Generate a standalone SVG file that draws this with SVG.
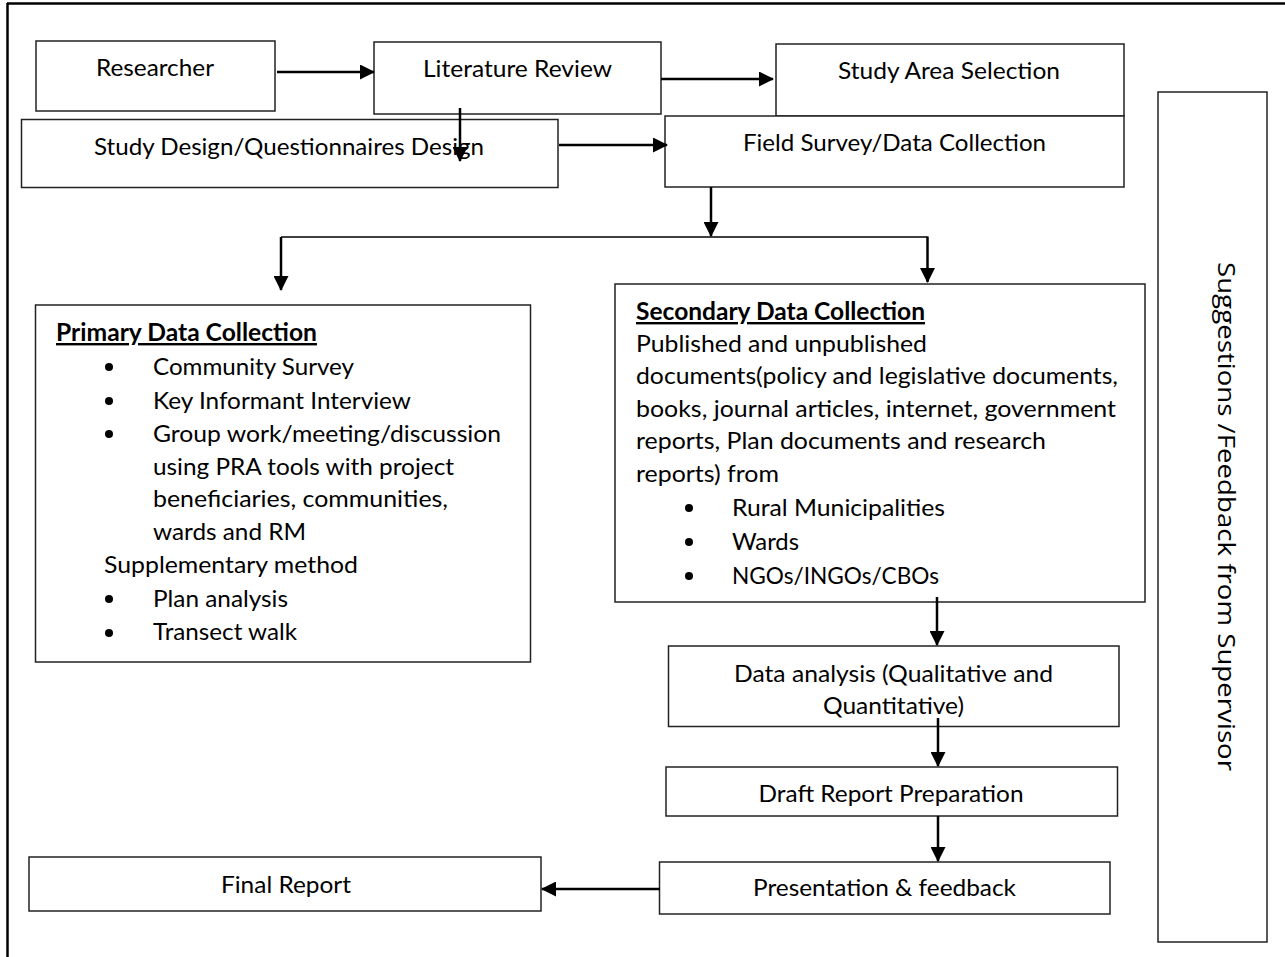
<svg xmlns="http://www.w3.org/2000/svg" width="1285" height="957" viewBox="0 0 1285 957">
<style>
.box{fill:#fff;stroke:#222;stroke-width:1.5}
.frame{stroke:#000;stroke-width:2.5;fill:none}
.t{font-family:Lato,"Liberation Sans",sans-serif;font-size:23px;fill:#000}
.c{text-anchor:middle}
.b{font-family:Lato,"Liberation Sans",sans-serif;font-size:24px;fill:#000}
.h{font-weight:bold;text-decoration:underline}
.conn{stroke:#000;stroke-width:2.5;fill:none}
.thin{stroke:#000;stroke-width:1.6;fill:none}
.dot{fill:#000}
.rot{font-family:"Open Sans","DejaVu Sans",sans-serif;font-size:24px;fill:#000}
</style>
<defs>
<marker id="ah" markerUnits="userSpaceOnUse" markerWidth="15" markerHeight="15" viewBox="0 0 15 15" refX="14" refY="7.5" orient="auto">
<path d="M0,0 L15,7.5 L0,15 Z" fill="#000"/>
</marker>
</defs>
<g id="frame">
<line class="frame" x1="7" y1="3.5" x2="1285" y2="3.5"/>
<line class="frame" x1="7.5" y1="3" x2="7.5" y2="957"/>
</g>
<g id="researcher">
<rect class="box" x="36" y="41" width="239" height="70"/>
<text class="t" x="96" y="76" textLength="118" lengthAdjust="spacingAndGlyphs">Researcher</text>
</g>
<g id="literature-review">
<rect class="box" x="374" y="42" width="287" height="72"/>
<text class="t" x="423" y="77" textLength="189" lengthAdjust="spacingAndGlyphs">Literature Review</text>
</g>
<g id="study-area">
<rect class="box" x="776" y="44" width="348" height="72"/>
<text class="t" x="838" y="79" textLength="222" lengthAdjust="spacingAndGlyphs">Study Area Selection</text>
</g>
<g id="study-design">
<rect class="box" x="21.5" y="119.5" width="536.5" height="68"/>
<text class="t" x="94" y="155" textLength="390" lengthAdjust="spacingAndGlyphs">Study Design/Questionnaires Design</text>
</g>
<g id="field-survey">
<rect class="box" x="665" y="116" width="459" height="71"/>
<text class="t" x="743" y="151" textLength="303" lengthAdjust="spacingAndGlyphs">Field Survey/Data Collection</text>
</g>
<g id="primary">
<rect class="box" x="35.5" y="305" width="495" height="357"/>
<text class="b h" x="56" y="341" textLength="261" lengthAdjust="spacingAndGlyphs">Primary Data Collection</text>
<circle class="dot" cx="109" cy="367" r="4"/>
<text class="b" x="153" y="375" textLength="201" lengthAdjust="spacingAndGlyphs">Community Survey</text>
<circle class="dot" cx="109" cy="401" r="4"/>
<text class="b" x="153" y="408.5" textLength="258" lengthAdjust="spacingAndGlyphs">Key Informant Interview</text>
<circle class="dot" cx="109" cy="434" r="4"/>
<text class="b" x="153" y="441.5" textLength="348" lengthAdjust="spacingAndGlyphs">Group work/meeting/discussion</text>
<text class="b" x="153" y="474.5" textLength="301" lengthAdjust="spacingAndGlyphs">using PRA tools with project</text>
<text class="b" x="153" y="507" textLength="295" lengthAdjust="spacingAndGlyphs">beneficiaries, communities,</text>
<text class="b" x="153" y="540" textLength="153" lengthAdjust="spacingAndGlyphs">wards and RM</text>
<text class="b" x="104" y="573" textLength="254" lengthAdjust="spacingAndGlyphs">Supplementary method</text>
<circle class="dot" cx="109" cy="599" r="4"/>
<text class="b" x="153" y="606.5" textLength="135" lengthAdjust="spacingAndGlyphs">Plan analysis</text>
<circle class="dot" cx="109" cy="633" r="4"/>
<text class="b" x="153" y="640" textLength="144" lengthAdjust="spacingAndGlyphs">Transect walk</text>
</g>
<g id="secondary">
<rect class="box" x="615" y="284" width="530" height="318"/>
<text class="b h" x="636" y="320" textLength="289" lengthAdjust="spacingAndGlyphs">Secondary Data Collection</text>
<text class="b" x="636" y="352" textLength="291" lengthAdjust="spacingAndGlyphs">Published and unpublished</text>
<text class="b" x="636" y="384" textLength="482" lengthAdjust="spacingAndGlyphs">documents(policy and legislative documents,</text>
<text class="b" x="636" y="417" textLength="480" lengthAdjust="spacingAndGlyphs">books, journal articles, internet, government</text>
<text class="b" x="636" y="449" textLength="410" lengthAdjust="spacingAndGlyphs">reports, Plan documents and research</text>
<text class="b" x="636" y="482" textLength="143" lengthAdjust="spacingAndGlyphs">reports) from</text>
<circle class="dot" cx="689" cy="508" r="4"/>
<text class="b" x="732" y="516" textLength="213" lengthAdjust="spacingAndGlyphs">Rural Municipalities</text>
<circle class="dot" cx="689" cy="542" r="4"/>
<text class="b" x="732" y="550" textLength="67" lengthAdjust="spacingAndGlyphs">Wards</text>
<circle class="dot" cx="689" cy="576" r="4"/>
<text class="b" x="732" y="584" textLength="207" lengthAdjust="spacingAndGlyphs">NGOs/INGOs/CBOs</text>
</g>
<g id="data-analysis">
<rect class="box" x="668.5" y="646" width="450.5" height="80.5"/>
<text class="t" x="734" y="682" textLength="319" lengthAdjust="spacingAndGlyphs">Data analysis (Qualitative and</text>
<text class="t" x="823" y="713.5" textLength="141" lengthAdjust="spacingAndGlyphs">Quantitative)</text>
</g>
<g id="draft-report">
<rect class="box" x="666" y="767" width="451.5" height="49"/>
<text class="t" x="758.5" y="802" textLength="265" lengthAdjust="spacingAndGlyphs">Draft Report Preparation</text>
</g>
<g id="presentation">
<rect class="box" x="659.5" y="862" width="450.5" height="52"/>
<text class="t" x="753" y="896" textLength="263" lengthAdjust="spacingAndGlyphs">Presentation &amp; feedback</text>
</g>
<g id="final-report">
<rect class="box" x="29" y="857" width="512" height="54"/>
<text class="t" x="221" y="893" textLength="130" lengthAdjust="spacingAndGlyphs">Final Report</text>
</g>
<g id="suggestions">
<rect class="box" x="1158" y="92" width="109" height="850"/>
<text class="rot" transform="translate(1218,262) rotate(90)" textLength="509" lengthAdjust="spacingAndGlyphs">Suggestions /Feedback from Supervisor</text>
</g>
<g id="connectors">
<line class="conn" x1="277" y1="72" x2="374" y2="72" marker-end="url(#ah)"/>
<line class="conn" x1="661" y1="79" x2="773" y2="79" marker-end="url(#ah)"/>
<line class="conn" x1="460" y1="108" x2="460" y2="161" marker-end="url(#ah)"/>
<line class="conn" x1="559" y1="145" x2="667" y2="145" marker-end="url(#ah)"/>
<line class="conn" x1="711" y1="187" x2="711" y2="236" marker-end="url(#ah)"/>
<polyline class="thin" points="281,237 927.5,237"/>
<line class="conn" x1="281" y1="237" x2="281" y2="290" marker-end="url(#ah)"/>
<line class="conn" x1="927.5" y1="236.5" x2="927.5" y2="282" marker-end="url(#ah)"/>
<line class="conn" x1="937" y1="597" x2="937" y2="645" marker-end="url(#ah)"/>
<line class="conn" x1="938" y1="718" x2="938" y2="766" marker-end="url(#ah)"/>
<line class="conn" x1="938" y1="816" x2="938" y2="861" marker-end="url(#ah)"/>
<line class="conn" x1="660" y1="889" x2="542" y2="889" marker-end="url(#ah)"/>
</g>
</svg>
